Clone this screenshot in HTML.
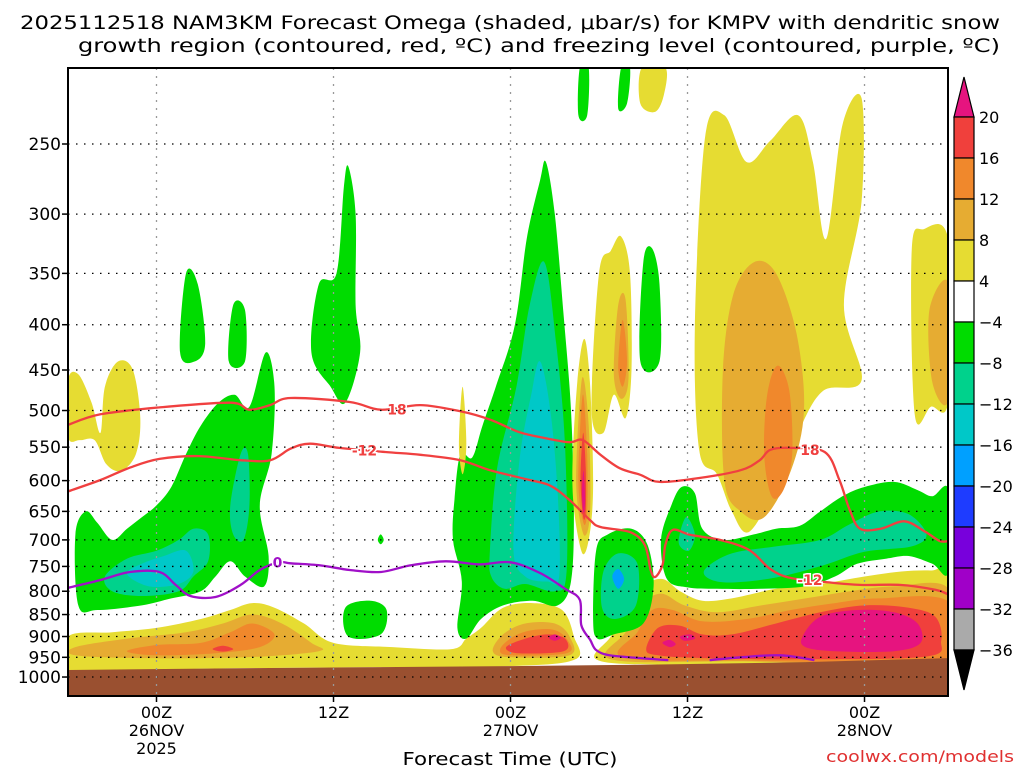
<!DOCTYPE html>
<html><head><meta charset="utf-8"><style>
body{margin:0;background:#fff;}
svg{display:block;font-family:"DejaVu Sans","Liberation Sans",sans-serif;}
</style></head><body>
<svg id="chart" width="1024" height="768" viewBox="0 0 1024 768">
<g id="fills"></g>
<g id="lines"></g>
<g id="grid"></g>
<g id="axes"></g>
<g id="cbar"></g>
<text x="510" y="29" text-anchor="middle" font-size="19" textLength="980" lengthAdjust="spacingAndGlyphs">2025112518 NAM3KM Forecast Omega (shaded, μbar/s) for KMPV with dendritic snow</text>
<text x="539" y="52" text-anchor="middle" font-size="19" textLength="922" lengthAdjust="spacingAndGlyphs">growth region (contoured, red, ºC) and freezing level (contoured, purple, ºC)</text>
<text x="510" y="765" text-anchor="middle" font-size="18" textLength="215" lengthAdjust="spacingAndGlyphs">Forecast Time (UTC)</text>
<text x="1014" y="762" text-anchor="end" font-size="16" fill="#e03030" textLength="188" lengthAdjust="spacingAndGlyphs">coolwx.com/models</text>
</svg>
<script>
// ---- data ----
const pressureTicks = [250,300,350,400,450,500,550,600,650,700,750,800,850,900,950,1000];
const timeTickHours = [6,18,30,42,54];
const timeTickLabels = [["00Z","26NOV","2025"],["12Z"],["00Z","27NOV"],["12Z"],["00Z","28NOV"]];
const cbarLabels = [20,16,12,8,4,-4,-8,-12,-16,-20,-24,-28,-32,-36];
const cbarColors = ["#f0403c","#f0882c","#e6ac32","#e6dc32","#ffffff","#00dc00","#00d28c","#00c8c8","#00a0ff","#1e3cff","#7800dc","#a000c8","#aaaaaa"];
const levelColors = {"0":"#e6dc32","1":"#e6ac32","2":"#f0882c","3":"#f0403c","4":"#e6147f","-1":"#00dc00","-2":"#00d28c","-3":"#00c8c8","-4":"#00a0ff"};
const groundPts = [[0,982],[10,978],[20,975],[30,972],[40,968],[50,962],[59.7,952],[59.7,1050],[0,1050]];
const blobLevels = [0,1,2,3,0,1,2,3,4,4,0,1,2,3,4,4,-1,-2,-3,-2,-1,-1,-1,-1,-1,-1,-2,-3,-1,-2,-4,-1,-1,-2,-2,-1,-1,0,0,0,0,1,2,3,4,0,1,2,0,0,1,1,2];
const blobShapes = [
 [[0,900],[3,890],[6,880],[9,860],[11,840],[12.5,825],[14,835],[16,870],[18,915],[22,925],[26,930],[27,905],[28,880],[29.5,835],[31.5,825],[33.5,840],[34.3,900],[34.4,955],[30,972],[20,975],[10,978],[0,982]],
 [[0.5,925],[4,905],[8,890],[10.5,870],[12.5,850],[14.5,870],[16.5,915],[17,935],[12,950],[5,952],[0.5,945]],
 [[4,935],[6,920],[9,915],[11,890],[12.5,870],[14,895],[13,925],[10,940],[6,945]],
 [[9.8,930],[10.5,922],[11.2,930],[10.5,936]],
 [[35.8,955],[36.8,900],[37.8,840],[39,790],[40.3,775],[41.5,800],[43,820],[45,815],[48,795],[51,785],[54,770],[56.5,760],[58.5,758],[59.7,765],[59.7,952],[50,962],[40,968]],
 [[36.8,955],[37.8,890],[38.8,830],[40.2,805],[41.8,830],[44,845],[47,830],[50,815],[53,800],[56,790],[59.7,795],[59.7,952],[45,960]],
 [[37.6,950],[38.6,890],[39.6,840],[41,840],[43,865],[46,860],[49,840],[52,825],[55,815],[59.7,822],[59.7,950],[45,958]],
 [[39.2,930],[40,880],[41.5,875],[43,895],[45,895],[48,870],[51,845],[54,830],[57,835],[58.8,855],[59.2,910],[58.2,948],[50,955],[43,952],[40,945]],
 [[49.8,900],[51,855],[53.5,840],[56,845],[57.6,870],[57.8,915],[56,935],[52,935],[50,925]],
 [[41.5,900],[42.2,895],[42.5,905],[41.8,910]],
 [[28.4,935],[29,880],[30.5,850],[32.5,845],[33.8,870],[34.2,945],[30,955]],
 [[28.8,935],[29.5,895],[31,870],[33,870],[34,900],[34,945],[30,950]],
 [[29.3,930],[30.2,900],[31.5,885],[33,885],[33.9,910],[33.8,940],[30,945]],
 [[29.7,925],[31,905],[32.5,895],[33.7,905],[33.6,935],[30.5,940]],
 [[32.6,903],[33,895],[33.4,903],[33,910]],
 [[40.3,915],[40.8,908],[41.2,918],[40.8,925]],
 [[0.5,690],[1.2,650],[2,670],[3,700],[4,680],[5,660],[6,640],[7,610],[8,560],[9,520],[10.2,490],[11.3,480],[12.3,495],[13.4,430],[14,470],[13.8,560],[13,640],[13.6,730],[13.3,790],[12,770],[11,740],[10,770],[9,800],[7,815],[5,830],[2,840],[0.7,830]],
 [[2.5,770],[4,735],[6,720],[7.5,700],[8.5,680],[9.5,690],[9.5,740],[8.5,770],[7.5,800],[5,810],[3,800]],
 [[4,765],[5,745],[6.5,730],[8,720],[8.5,760],[7.5,785],[5.5,790]],
 [[11,640],[11.7,560],[12.2,560],[12.3,640],[11.9,700],[11.2,690]],
 [[7.6,430],[8,350],[8.8,360],[9.3,420],[8.6,440]],
 [[10.9,440],[11.2,380],[12,385],[12,440]],
 [[16.5,430],[17,360],[18.2,350],[18.7,280],[19,265],[19.5,300],[19.5,380],[19.8,430],[18.8,490],[17.8,470]],
 [[18.8,835],[20.5,820],[21.6,840],[21.2,895],[19,900]],
 [[21,700],[21.2,690],[21.4,700],[21.2,708]],
 [[26.2,630],[26.6,560],[27.4,565],[28.1,520],[29,470],[30.3,400],[31.1,320],[32,275],[32.4,262],[33,300],[33.6,390],[34.1,500],[34.3,650],[34.1,780],[33.2,830],[31.5,820],[29.5,830],[28,860],[27,905],[26.4,880],[26.7,780],[26.1,700]],
 [[28.6,720],[29.1,580],[30.4,470],[31.3,380],[32.3,340],[33.1,420],[33.7,550],[33.8,760],[33,800],[31,785],[29.6,795],[28.7,770]],
 [[30.2,720],[30.6,570],[31.4,480],[32,440],[32.7,500],[33.2,620],[33.3,770],[32.5,780],[31,770]],
 [[35.8,720],[36.6,690],[38.2,680],[39.3,710],[39.7,790],[39,870],[37,895],[35.9,905],[35.6,860]],
 [[36.3,760],[37.3,725],[38.6,745],[38.5,830],[37.1,860],[36.2,835]],
 [[36.9,770],[37.3,755],[37.7,775],[37.3,795]],
 [[38.8,440],[39,340],[39.6,328],[40.1,360],[40.1,440]],
 [[40.2,700],[40.9,640],[41.6,610],[42.5,620],[43,680],[44.5,700],[46.5,690],[48,680],[49.6,675],[51,650],[52.5,625],[54,610],[56,602],[57.6,615],[58.6,625],[59.7,615],[59.7,760],[58.6,745],[57,730],[55.5,735],[53.5,745],[52,770],[50,790],[47,795],[44,795],[42,792],[40.6,775]],
 [[43.2,755],[45,725],[48,712],[51,700],[53,672],[55,650],[57,655],[58.2,690],[57.2,712],[54,722],[51.2,748],[48,772],[45,782],[43.5,775]],
 [[41.4,705],[41.9,660],[42.5,690],[42.1,720]],
 [[34.6,232],[34.7,205],[35.3,205],[35.2,232]],
 [[37.3,228],[37.5,205],[38.1,205],[37.9,225]],
 [[0,462],[0.7,455],[1.6,490],[2.2,530],[2.5,470],[3.4,440],[4.4,450],[4.9,510],[4.6,560],[3.6,585],[2.6,575],[1.8,540],[0.8,540],[0,535]],
 [[26.5,545],[26.75,470],[27.0,545],[26.75,590]],
 [[34.2,610],[34.5,470],[35,415],[35.4,470],[35.6,610],[35.3,700],[34.8,720]],
 [[35.5,500],[36,350],[36.8,330],[37.5,318],[38.1,350],[38.2,450],[37.8,510],[37,480],[36.3,530]],
 [[34.45,600],[34.85,460],[35.3,520],[35.4,650],[34.95,690]],
 [[34.6,600],[34.9,480],[35.2,560],[35.2,650],[34.95,670]],
 [[34.75,600],[34.92,530],[35.1,580],[35.1,650],[34.93,660]],
 [[34.85,620],[34.95,585],[35.06,630],[34.95,655]],
 [[38.8,225],[38.9,205],[40.5,205],[40.4,220],[39.8,230]],
 [[37,455],[37.3,380],[37.8,375],[38,460],[37.5,485]],
 [[37.3,445],[37.6,395],[37.9,440],[37.6,470]],
 [[42.8,555],[42.5,400],[43.2,245],[44.5,232],[46,262],[47.6,248],[49.5,232],[50.5,262],[51.4,320],[52.5,238],[53.8,222],[53.8,290],[52.6,380],[53.8,462],[51.2,475],[49.6,525],[48.2,600],[46.2,685],[45,650],[44,590]],
 [[57.4,505],[57.2,330],[58,312],[59.7,322],[59.7,485],[58.5,495]],
 [[58.6,465],[58.4,385],[59.7,360],[59.7,485]],
 [[44.5,600],[44.4,450],[45.1,370],[46.5,340],[48,350],[49.4,410],[49.9,500],[49,585],[47.2,660],[45.6,650]],
 [[47.2,560],[47.4,480],[48.1,445],[48.9,475],[49.1,560],[48.5,615],[47.7,625]]
];
const line18 = [[0,519],[2.2,505],[6.2,496],[11,490],[12.3,499],[13.7,493],[15.1,484],[19.1,489],[21.2,499],[23.9,493],[26.6,501],[28.6,512],[30.6,529],[32.3,537],[34,543],[34.9,540],[36.1,561],[37.4,581],[38.8,591],[40.1,602],[42.8,596],[45.6,584],[46.9,569],[47.6,554],[49,551],[51.3,557],[52.3,599],[53,648],[53.7,680],[55.1,680],[56.7,667],[58.1,685],[59.1,702],[59.7,702]];
const line12 = [[0,617],[2.2,599],[4.2,580],[6.2,567],[8.9,563],[11.7,569],[13.7,569],[15.1,552],[16.4,545],[18.4,551],[21.5,557],[23.9,561],[26.6,569],[28.6,584],[31.3,599],[32.7,608],[34,631],[35.4,665],[36.1,677],[38.1,686],[39.1,709],[39.5,757],[39.8,771],[40.3,748],[40.5,709],[41,682],[42.2,691],[44.2,700],[46.2,719],[47.6,755],[49,773],[51.3,781],[53.7,787],[56.4,787],[58.8,797],[59.7,807]];
const line0a = [[0,793],[2.2,777],[4.2,761],[6.2,761],[7.3,787],[8.3,810],[10,812],[11.7,787],[13,757],[14.3,742],[15.1,744],[17.1,748],[19.1,757],[21.2,761],[23.2,748],[25.6,740],[27.9,746],[30,742],[32,763],[33.7,795],[34.7,818],[34.8,874],[35.4,908],[35.8,932],[36.7,945],[38.8,952],[40.7,957]];
const line0b = [[43.5,957],[45.6,950],[48.3,945],[50.6,957]];
const contourLabels = [["18",22.3,499],["-12",20.1,555],["18",50.3,554],["-12",50.3,777],["0",14.2,742]];

// ---- axes ----
const L=68,R=948,T=68,B=696, H0=0,H1=59.66;
const X=h=>L+(h-H0)/(H1-H0)*(R-L);
const Y=p=>144+Math.log(p/250)*384.5;
const NS="http://www.w3.org/2000/svg";
function mk(tag,attrs,parent){const e=document.createElementNS(NS,tag);for(const k in attrs)e.setAttribute(k,attrs[k]);parent.appendChild(e);return e;}
function smooth(pts,closed){
 const P=pts.map(d=>[X(d[0]),Y(d[1])]);const n=P.length;
 let s=`M${P[0][0].toFixed(1)},${P[0][1].toFixed(1)}`;
 const g=i=>closed?P[(i+n)%n]:P[Math.max(0,Math.min(n-1,i))];
 const end=closed?n:n-1;
 for(let i=0;i<end;i++){const p0=g(i-1),p1=g(i),p2=g(i+1),p3=g(i+2);
  const c1=[p1[0]+(p2[0]-p0[0])/6,p1[1]+(p2[1]-p0[1])/6],c2=[p2[0]-(p3[0]-p1[0])/6,p2[1]-(p3[1]-p1[1])/6];
  s+=`C${c1[0].toFixed(1)},${c1[1].toFixed(1)} ${c2[0].toFixed(1)},${c2[1].toFixed(1)} ${p2[0].toFixed(1)},${p2[1].toFixed(1)}`;}
 return s+(closed?"Z":"");
}
const svg=document.getElementById('chart');
const fills=document.getElementById('fills');
const defs=mk('defs',{},svg);
const cp=mk('clipPath',{id:'plotclip'},defs);mk('rect',{x:L,y:T,width:R-L,height:B-T},cp);
fills.setAttribute('clip-path','url(#plotclip)');
blobShapes.forEach((s,i)=>{
 const e=mk('path',{d:smooth(s,true),fill:levelColors[String(blobLevels[i])]},fills);
 
 
});
const gr=mk('polygon',{points:groundPts.map(d=>X(d[0])+','+Y(d[1])).join(' '),fill:'#9a5030'},fills);



const grid=document.getElementById('grid');
pressureTicks.forEach(p=>{const e=mk('line',{x1:L,x2:R,y1:Y(p),y2:Y(p),stroke:'#000','stroke-width':1.3,'stroke-dasharray':'1.5 6.5'},grid);
 
 });
timeTickHours.forEach(h=>{const e=mk('line',{x1:X(h),x2:X(h),y1:T,y2:B,stroke:'#999','stroke-width':1.3,'stroke-dasharray':'2 6'},grid);
 
 });

const lines=document.getElementById('lines');
lines.setAttribute('clip-path','url(#plotclip)');
[[line18,'#f04040'],[line12,'#f04040'],[line0a,'#a010c8'],[line0b,'#a010c8']].forEach(([d,c])=>{
 const e=mk('path',{d:smooth(d,false),fill:'none',stroke:c,'stroke-width':2.3},lines);
 
 });
contourLabels.forEach(([t,h,p])=>{
 const col=t==="0"?'#a010c8':'#f04040';
 const e=mk('text',{x:X(h),y:Y(p)+5,'text-anchor':'middle','font-size':14,'font-weight':'bold',fill:col,stroke:'#fff','stroke-width':3,'paint-order':'stroke'},lines);
 e.textContent=t;
 
 });

const ax=document.getElementById('axes');
mk('rect',{x:L,y:T,width:R-L,height:B-T,fill:'none',stroke:'#000','stroke-width':2},ax);
pressureTicks.forEach(p=>{
 mk('line',{x1:L-6,x2:L,y1:Y(p),y2:Y(p),stroke:'#000','stroke-width':1.5},ax);
 const e=mk('text',{x:L-7,y:Y(p)+6,'text-anchor':'end','font-size':17},ax);e.textContent=p;
 
 });
timeTickHours.forEach((h,i)=>{
 mk('line',{x1:X(h),x2:X(h),y1:B,y2:B+6,stroke:'#000','stroke-width':1.5},ax);
 timeTickLabels[i].forEach((t,j)=>{const e=mk('text',{x:X(h),y:718+j*18,'text-anchor':'middle','font-size':16},ax);e.textContent=t;
 
 });});

const cb=document.getElementById('cbar');
const cx=954,cw=20,cy0=117,ch=41;
mk('polygon',{points:`${cx},${cy0} ${cx+cw},${cy0} ${cx+cw/2},${cy0-40}`,fill:'#e6147f',stroke:'#000','stroke-width':1.2},cb);
cbarColors.forEach((c,i)=>{const e=mk('rect',{x:cx,y:cy0+i*ch,width:cw,height:ch,fill:c,stroke:'#000','stroke-width':1.2},cb);
 
 });
const yb=cy0+cbarColors.length*ch;
mk('polygon',{points:`${cx},${yb} ${cx+cw},${yb} ${cx+cw/2},${yb+40}`,fill:'#000',stroke:'#000','stroke-width':1.2},cb);
cbarLabels.forEach((v,i)=>{const e=mk('text',{x:979,y:cy0+i*ch+6,'font-size':16},cb);e.textContent=v<0?'\u2212'+(-v):v;
 
 });
</script>
</body></html>
